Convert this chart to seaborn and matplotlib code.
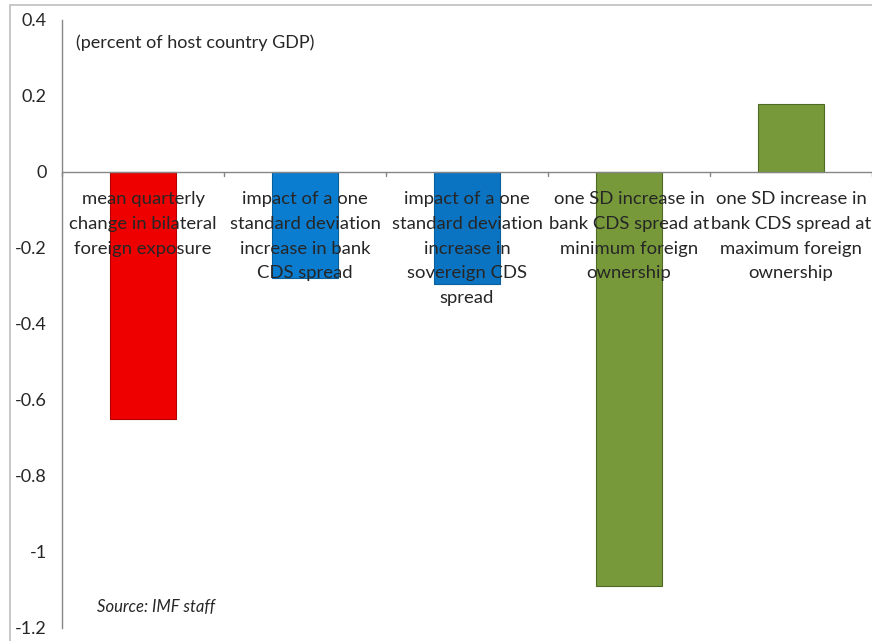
import matplotlib.pyplot as plt
import matplotlib.patches as mpatches
import seaborn as sns
import pandas as pd

# chart values
categories = [
    "mean quarterly\nchange in bilateral\nforeign exposure",
    "impact of a one\nstandard deviation\nincrease in bank\nCDS spread",
    "impact of a one\nstandard deviation\nincrease in\nsovereign CDS\nspread",
    "one SD increase in\nbank CDS spread at\nminimum foreign\nownership",
    "one SD increase in\nbank CDS spread at\nmaximum foreign\nownership",
]
values = [-0.65, -0.28, -0.295, -1.09, 0.178]
bar_colors = ["#EE0000", "#0B7DD0", "#0B74C2", "#77993A", "#77993A"]
edge_colors = ["#B00000", "#095E9C", "#095E9C", "#4F6A22", "#4F6A22"]
y_ticks = [0.4, 0.2, 0, -0.2, -0.4, -0.6, -0.8, -1, -1.2]
y_tick_labels = ["0.4", "0.2", "0", "-0.2", "-0.4", "-0.6", "-0.8", "-1", "-1.2"]

sns.set_style("white")
plt.rcParams["font.family"] = ["Lato", "DejaVu Sans"]

df = pd.DataFrame({"category": categories, "value": values})

fig = plt.figure(figsize=(8.72, 6.41), dpi=100)
ax = fig.add_axes([62 / 872, 1 - 627.5 / 641, 810 / 872, (627.5 - 19.5) / 641])

sns.barplot(data=df, x="category", y="value", hue="category", palette=bar_colors,
            legend=False, width=0.41, ax=ax, saturation=1)
for bar, ec in zip(ax.patches, edge_colors):
    bar.set_edgecolor(ec)
    bar.set_linewidth(0.8)

axis_grey = "#868686"
ax.set_xlim(-0.5, len(categories) - 0.5)
ax.set_ylim(-1.2, 0.4)
ax.set_yticks(y_ticks)
ax.set_yticklabels(y_tick_labels, fontsize=13)
ax.tick_params(axis="y", direction="out", length=5, width=1, color=axis_grey, pad=6)
ax.set_xticks([])
ax.set_xlabel("")
ax.set_ylabel("")
for side in ["top", "right", "bottom"]:
    ax.spines[side].set_visible(False)
ax.spines["left"].set_color(axis_grey)
ax.spines["left"].set_linewidth(1)

# zero line with category boundary ticks
ax.axhline(0, color=axis_grey, linewidth=1, zorder=1)
for b in range(len(categories) + 1):
    ax.plot([b - 0.5, b - 0.5], [0, -0.013], color=axis_grey, linewidth=1, clip_on=False)

# category labels sit just under the zero line
for i, label in enumerate(categories):
    ax.annotate(label, xy=(i, 0), xytext=(0, -14), textcoords="offset points",
                ha="center", va="top", fontsize=13.3, linespacing=1.68, zorder=5)

ax.text(0.017, 0.961, "(percent of host country GDP)", transform=ax.transAxes,
        fontsize=13, va="center", ha="left")
ax.text(0.043, 0.034, "Source: IMF staff", transform=ax.transAxes,
        fontsize=12, style="italic", va="center", ha="left")

# outer chart frame
fig.patches.append(mpatches.Rectangle((10 / 872, -0.05), 1.1, 1.05 - 5 / 641,
                                      transform=fig.transFigure, fill=False,
                                      edgecolor="#BFBFBF", linewidth=1.2))

fig.savefig("out.png", dpi=100)
